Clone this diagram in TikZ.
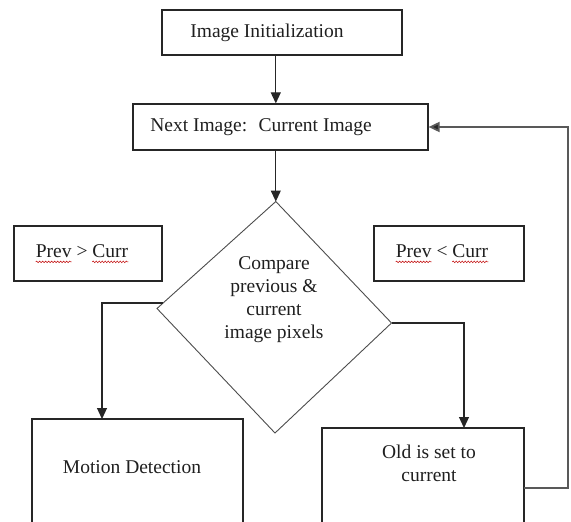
\documentclass[tikz,border=0pt]{standalone}
\usepackage{fontspec}
\setmainfont{Liberation Serif}
\usetikzlibrary{arrows.meta,calc,decorations.pathmorphing}
\begin{document}
\begin{tikzpicture}[x=1pt,y=-1pt,
  box/.style={draw=black!85, line width=1.2pt, inner sep=0pt},
  lbl/.style={font=\fontsize{19.5}{23}\selectfont, text=black!88, inner sep=0pt, align=center},
  flow/.style={draw=black!85, line width=1.1pt, -{Triangle[length=11pt,width=10pt]}},
  loopline/.style={draw=black!65, line width=1.8pt, -{Triangle[length=11pt,width=10pt,fill=black!85]}},
  dia/.style={draw=black!70, line width=0.9pt, line join=miter},
  squig/.style={draw=red!75!black, line width=0.5pt, decorate,
    decoration={snake, amplitude=0.8pt, segment length=3pt}}]

\useasboundingbox (0,0) rectangle (571,522);
\clip (0,0) rectangle (571,522);

% process boxes
\node[box, minimum width=240pt, minimum height=45pt] (init) at (282,32.5) {};
\node[box, minimum width=295pt, minimum height=46pt] (next) at (280.5,127) {};
\node[box, minimum width=148pt, minimum height=55pt] (prevgt) at (88,253.5) {};
\node[box, minimum width=150pt, minimum height=55pt] (prevlt) at (449,253.5) {};
\node[box, minimum width=211pt, minimum height=121pt] (motion) at (137.5,479.5) {};
\node[box, minimum width=202pt, minimum height=112pt] (old) at (423,484) {};

% decision shape
\coordinate (dt) at (275.8,201.5);
\coordinate (dr) at (391.5,323);
\coordinate (db) at (275,433);
\coordinate (dl) at (157,308.5);
\draw[dia] (dt) -- (dr) -- (db) -- (dl) -- cycle;

% labels
\node[lbl] (tinit) at (267,33) {Image Initialization};
\node[lbl] (tnext) at (261,127) {Next Image:~ Current Image};
\node[lbl] (tcmp) at (274,300) {Compare\\previous \&\\current\\image pixels};
\node[lbl] (tgt) at (82,251) {Prev > Curr};
\node[lbl] (tlt) at (442,251) {Prev < Curr};
\node[lbl] (tmotion) at (132,467) {Motion Detection};
\node[lbl] (told) at (429,463) {Old is set to\\current};

% spell-check underlines
\draw[squig] ($(tgt.base west)+(0,4.5)$) -- ++(36,0);
\draw[squig] ($(tgt.base east)+(-36,4.5)$) -- ++(36,0);
\draw[squig] ($(tlt.base west)+(0,4.5)$) -- ++(36,0);
\draw[squig] ($(tlt.base east)+(-36,4.5)$) -- ++(36,0);

% connectors
\coordinate (lj) at (163,303);
\coordinate (mtop) at (102,419);
\coordinate (otop) at (464,428);
\coordinate (oout) at (524,488);
\coordinate (loop) at (568,488);

\draw[flow] (init.south -| dt) -- (next.north -| dt);
\draw[flow] (next.south -| dt) -- (dt);
\draw[flow] (lj) -| (mtop);
\draw[flow] (dr) -| (otop);
\draw[loopline] (oout) -- (loop) |- (next.east);
\end{tikzpicture}
\end{document}
